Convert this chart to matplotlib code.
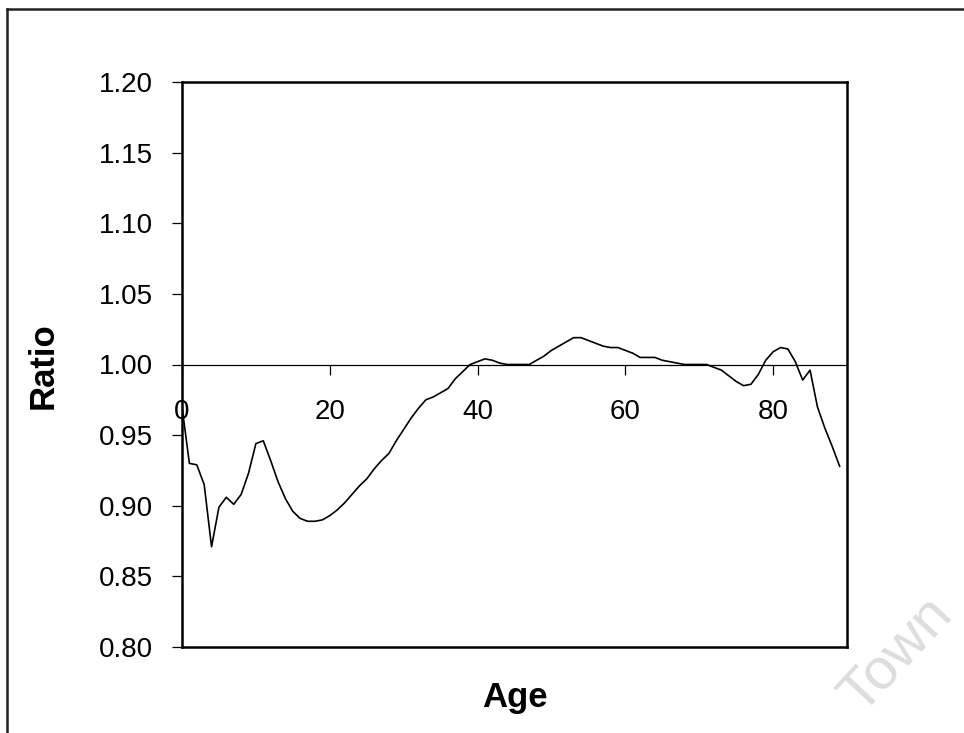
import matplotlib
matplotlib.use("Agg")
import matplotlib.pyplot as plt
from matplotlib.lines import Line2D

plt.rcParams['font.family'] = ['Liberation Sans', 'DejaVu Sans']

ages = list(range(0, 90))
ratios = [0.970, 0.930, 0.929, 0.915, 0.871, 0.899, 0.906, 0.901, 0.908, 0.923,
          0.944, 0.946, 0.932, 0.917, 0.905, 0.896, 0.891, 0.889, 0.889, 0.890,
          0.893, 0.897, 0.902, 0.908, 0.914, 0.919, 0.926, 0.932, 0.937, 0.946,
          0.954, 0.962, 0.969, 0.975, 0.977, 0.980, 0.983, 0.990, 0.995, 1.000,
          1.002, 1.004, 1.003, 1.001, 1.000, 1.000, 1.000, 1.000, 1.003, 1.006,
          1.010, 1.013, 1.016, 1.019, 1.019, 1.017, 1.015, 1.013, 1.012, 1.012,
          1.010, 1.008, 1.005, 1.005, 1.005, 1.003, 1.002, 1.001, 1.000, 1.000,
          1.000, 1.000, 0.998, 0.996, 0.992, 0.988, 0.985, 0.986, 0.993, 1.003,
          1.009, 1.012, 1.011, 1.002, 0.989, 0.996, 0.970, 0.955, 0.942, 0.928]

x_ticks = [0, 20, 40, 60, 80]
y_ticks = [0.80, 0.85, 0.90, 0.95, 1.00, 1.05, 1.10, 1.15, 1.20]
y_labels = ["0.80", "0.85", "0.90", "0.95", "1.00", "1.05", "1.10", "1.15", "1.20"]

fig = plt.figure(figsize=(9.64, 7.33), dpi=100)
ax = fig.add_axes([182/964, 1 - 647/733, (847-182)/964, (647-82)/733])

ax.plot(ages, ratios, color='black', lw=1.2)

ax.set_xlim(0, 90)
ax.set_ylim(0.80, 1.20)

ax.spines['bottom'].set_position(('data', 1.0))
ax.spines['bottom'].set_linewidth(0.9)
for s in ['left', 'top', 'right']:
    ax.spines[s].set_linewidth(1.8)
ax.axhline(0.80, color='black', lw=1.8, clip_on=False)

ax.set_xticks(x_ticks)
ax.set_xticklabels([str(t) for t in x_ticks])
ax.set_yticks(y_ticks)
ax.set_yticklabels(y_labels)
ax.tick_params(axis='x', direction='out', length=7, width=0.9, pad=18, labelsize=20)
ax.tick_params(axis='y', direction='out', length=7, width=0.9, pad=14, labelsize=20)

fig.text(43/964, 1 - 366/733, 'Ratio', fontsize=25, fontweight='bold',
         rotation=90, ha='center', va='center')
fig.text((182+847)/2/964, 1 - 697/733, 'Age', fontsize=25, fontweight='bold',
         ha='center', va='center')

# outer frame (left and top edges visible)
fig.add_artist(Line2D([7/964, 7/964], [0, 1 - 9/733], color='#222222', lw=1.8))
fig.add_artist(Line2D([7/964, 1], [1 - 9/733, 1 - 9/733], color='#222222', lw=1.8))

# watermark
fig.text(897/964, 1 - 655/733, 'Town', fontsize=42, color='#dddddd',
         rotation=47, ha='center', va='center')

fig.savefig('out.png', dpi=100)
